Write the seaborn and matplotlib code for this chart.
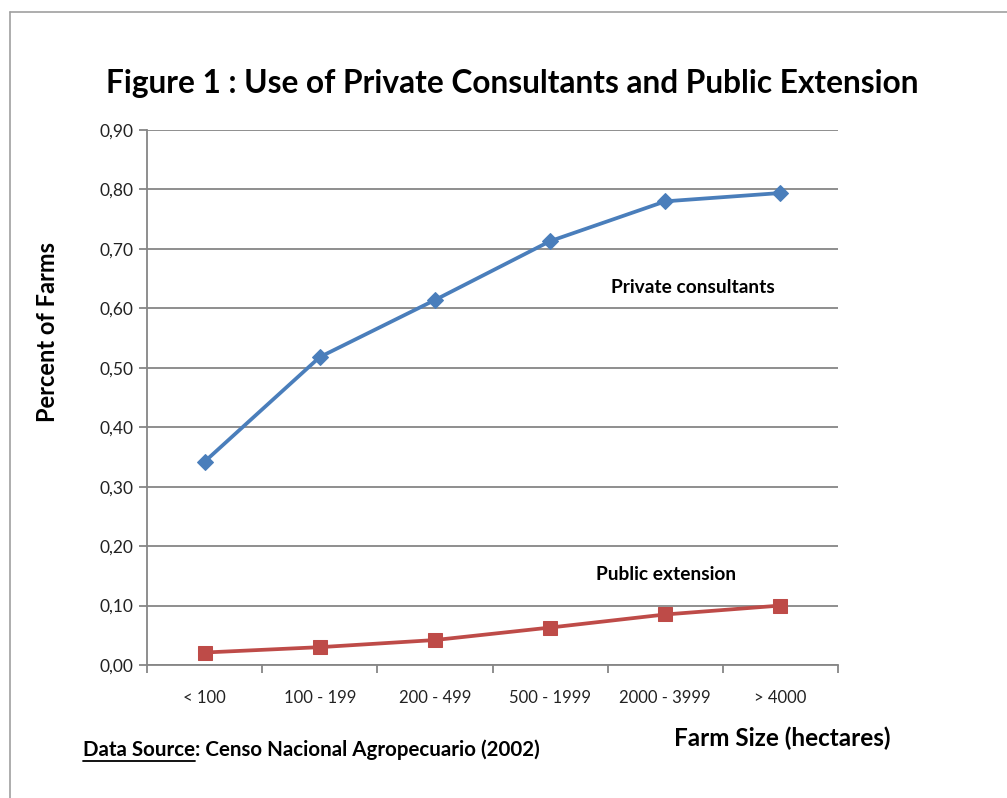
import matplotlib
matplotlib.use("Agg")
import matplotlib.pyplot as plt
from matplotlib.lines import Line2D
from matplotlib.ticker import FixedLocator, FuncFormatter
import seaborn as sns
import pandas as pd

categories = ["< 100", "100 - 199", "200 - 499", "500 - 1999", "2000 - 3999", "> 4000"]
private_consultants = [0.342, 0.518, 0.614, 0.713, 0.780, 0.794]
public_extension = [0.021, 0.030, 0.042, 0.063, 0.085, 0.100]
y_ticks = [0.0, 0.1, 0.2, 0.3, 0.4, 0.5, 0.6, 0.7, 0.8, 0.9]

sns.set_theme(style="white")
plt.rcParams["font.family"] = ["Lato", "DejaVu Sans"]

BLUE = "#4A7EBB"
RED = "#BE4B48"
GRID = "#868686"

fig = plt.figure(figsize=(10.07, 7.98), dpi=100)
ax = fig.add_axes([147 / 1007, 1 - 665 / 798, (838 - 147) / 1007, (665 - 130) / 798])

xpos = list(range(len(categories)))
df_priv = pd.DataFrame({"x": xpos, "y": private_consultants})
df_pub = pd.DataFrame({"x": xpos, "y": public_extension})

sns.lineplot(data=df_priv, x="x", y="y", ax=ax, color=BLUE, lw=2.7,
             marker="D", markersize=8.5, markeredgecolor=BLUE, zorder=3)
sns.lineplot(data=df_pub, x="x", y="y", ax=ax, color=RED, lw=2.7,
             marker="s", markersize=10, markeredgecolor=RED, zorder=3)

ax.set_xlim(-0.5, len(categories) - 0.5)
ax.set_ylim(0, 0.9)
ax.set_yticks(y_ticks)
ax.yaxis.set_major_formatter(FuncFormatter(lambda v, p: f"{v:.2f}".replace(".", ",")))
ax.set_xticks(xpos)
ax.set_xticklabels(categories)
ax.xaxis.set_minor_locator(FixedLocator([i - 0.5 for i in range(len(categories) + 1)]))

ax.grid(axis="y", color=GRID, lw=1.3)
ax.set_axisbelow(True)
for s in ["top", "right"]:
    ax.spines[s].set_visible(False)
for s in ["left", "bottom"]:
    ax.spines[s].set_color(GRID)
    ax.spines[s].set_linewidth(1.3)

ax.tick_params(axis="y", which="major", direction="out", length=6, width=1.3,
               color=GRID, labelsize=12.5, labelcolor="#222222", pad=4, left=True)
ax.tick_params(axis="x", which="major", length=0, labelsize=12, labelcolor="#222222", pad=18)
ax.tick_params(axis="x", which="minor", direction="out", length=6, width=1.3,
               color=GRID, bottom=True)

ax.set_xlabel("")
ax.set_ylabel("")

fig.text(48 / 1007, 1 - 332 / 798, "Percent of Farms", rotation=90, ha="center", va="center",
         fontsize=17, fontweight="bold", color="black")
fig.text(782 / 1007, 1 - 738 / 798, "Farm Size (hectares)", ha="center", va="center",
         fontsize=17.5, fontweight="bold", color="black")
fig.text(512 / 1007, 1 - 83 / 798, "Figure 1 : Use of Private Consultants and Public Extension",
         ha="center", va="center", fontsize=22.8, fontweight="bold", color="black")

ax.text(3.53, 0.635, "Private consultants", ha="left", va="center", fontsize=13.8,
        fontweight="bold", color="black")
ax.text(3.40, 0.153, "Public extension", ha="left", va="center", fontsize=13.8,
        fontweight="bold", color="black")

# Data source line with underlined part
fig.canvas.draw()
renderer = fig.canvas.get_renderer()
t1 = fig.text(83 / 1007, 1 - 750 / 798, "Data Source", ha="left", va="center",
              fontsize=14.8, fontweight="bold", color="black")
bb = t1.get_window_extent(renderer=renderer)
x_end = bb.x1 / fig.bbox.width
fig.text(x_end, 1 - 750 / 798, ": Censo Nacional Agropecuario (2002)", ha="left", va="center",
         fontsize=14.8, fontweight="bold", color="black")
y_ul = (bb.y0 - 1.0) / fig.bbox.height
fig.add_artist(Line2D([bb.x0 / fig.bbox.width, x_end], [y_ul, y_ul],
                      transform=fig.transFigure, color="black", lw=1.3))

# chart frame
fig.add_artist(Line2D([10 / 1007, 10 / 1007], [0, 1 - 12 / 798], transform=fig.transFigure,
                      color="#A0A0A0", lw=1.2))
fig.add_artist(Line2D([10 / 1007, 1], [1 - 12 / 798, 1 - 12 / 798], transform=fig.transFigure,
                      color="#A0A0A0", lw=1.2))

fig.savefig("out.png", dpi=100)
